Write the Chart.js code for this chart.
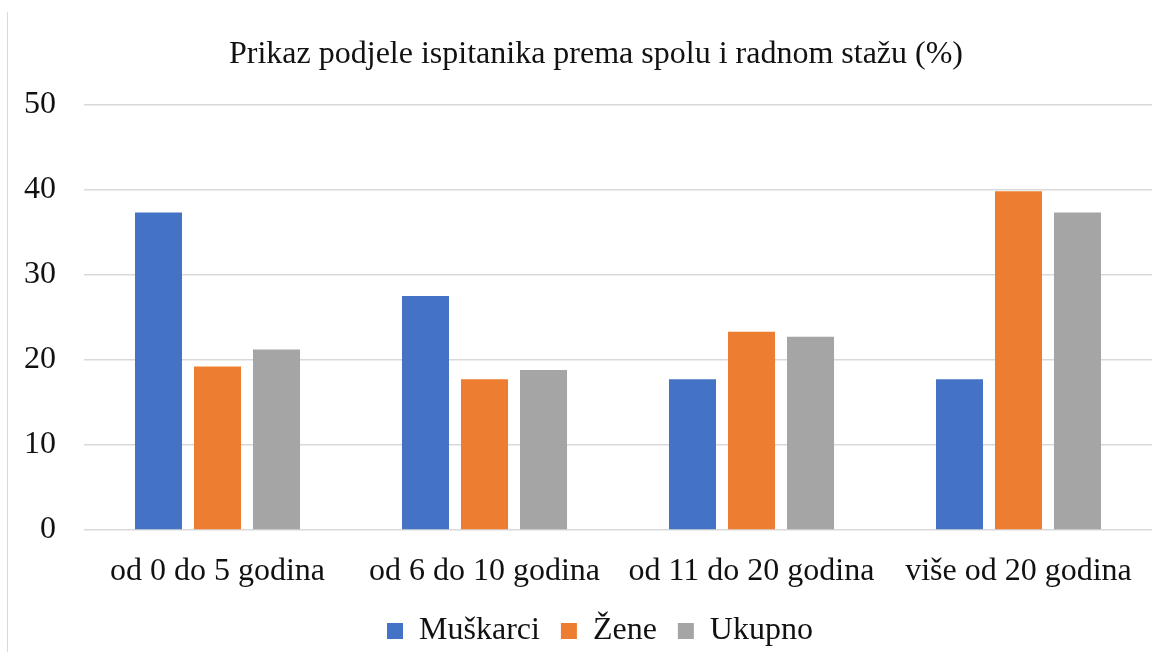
<!DOCTYPE html>
<html>
<head>
<meta charset="utf-8">
<script src="https://cdn.jsdelivr.net/npm/chart.js@4/dist/chart.umd.min.js"></script>
<style>
  html, body { margin: 0; padding: 0; background: #fff; }
  #wrap { position: relative; width: 1168px; height: 661px; }
  #edge { position: absolute; left: 7px; top: 12px; width: 1px; height: 640px; background: #d9d9d9; }
  canvas { position: absolute; left: 0; top: 0; }
</style>
</head>
<body>
<div id="wrap">
  <div id="edge"></div>
  <canvas id="chart" width="1168" height="661"></canvas>
</div>
<script>
// --- Данные ---
const categories = ["od 0 do 5 godina", "od 6 do 10 godina", "od 11 do 20 godina", "više od 20 godina"];
const muskarci = [37.3, 27.5, 17.7, 17.7];
const zene = [19.2, 17.7, 23.3, 39.8];
const ukupno = [21.2, 18.8, 22.7, 37.3];
const yTicks = [0, 10, 20, 30, 40, 50];

const serif = "'Liberation Serif', 'Times New Roman', serif";
const textColor = "#111";

const ctx = document.getElementById("chart").getContext("2d");
new Chart(ctx, {
  type: "bar",
  data: {
    labels: categories,
    datasets: [
      { label: "Muškarci", data: muskarci, backgroundColor: "#4472c4" },
      { label: "Žene", data: zene, backgroundColor: "#ed7d31" },
      { label: "Ukupno", data: ukupno, backgroundColor: "#a5a5a5" },
    ],
  },
  options: {
    responsive: false,
    animation: false,
    layout: { padding: { left: 48, right: 16, top: 0, bottom: 4 } },
    datasets: {
      bar: { categoryPercentage: 0.663, barPercentage: 0.797 },
    },
    plugins: {
      title: {
        display: true,
        text: "Prikaz podjele ispitanika prema spolu i radnom stažu (%)\u00a0",
        color: textColor,
        font: { family: serif, size: 32, weight: "normal" },
        padding: { top: 35, bottom: 31 },
      },
      legend: {
        position: "bottom",
        labels: {
          color: textColor,
          font: { family: serif, size: 32 },
          boxWidth: 16,
          boxHeight: 16,
          padding: 21,
        },
      },
      tooltip: { enabled: false },
    },
    scales: {
      x: {
        afterFit: (scale) => {
          scale.height = 64;
        },
        grid: { display: false, drawTicks: false },
        border: { display: false },
        ticks: {
          color: textColor,
          font: { family: serif, size: 32 },
          padding: 22,
          maxRotation: 0,
        },
      },
      y: {
        min: 0,
        max: 50,
        afterBuildTicks: (scale) => {
          scale.ticks = yTicks.map((v) => ({ value: v }));
        },
        afterFit: (scale) => {
          scale.width = 36;
        },
        grid: { color: "#d9d9d9", lineWidth: 1.5, drawTicks: false },
        border: { display: false },
        ticks: {
          color: textColor,
          font: { family: serif, size: 32 },
          // mirror снимает обрезку подписей по ширине оси
          mirror: true,
          crossAlign: "far",
          padding: -60,
        },
      },
    },
  },
});
</script>
</body>
</html>
